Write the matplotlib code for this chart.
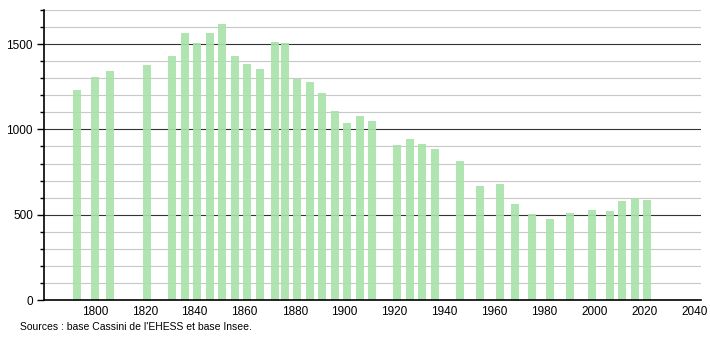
import numpy as np
import matplotlib
matplotlib.use('Agg')
import matplotlib.pyplot as plt
from matplotlib.ticker import MultipleLocator

# Années de recensement et population
annees = [1793, 1800, 1806, 1821, 1831, 1836, 1841, 1846, 1851, 1856,
          1861, 1866, 1872, 1876, 1881, 1886, 1891, 1896, 1901, 1906,
          1911, 1921, 1926, 1931, 1936, 1946, 1954, 1962, 1968, 1975,
          1982, 1990, 1999, 2006, 2011, 2016, 2021]
population = [1229, 1306, 1343, 1376, 1429, 1563, 1506, 1563, 1618, 1429,
              1386, 1353, 1510, 1505, 1298, 1276, 1212, 1108, 1039, 1076,
              1047, 906, 945, 912, 888, 812, 671, 678, 565, 506,
              475, 512, 529, 524, 578, 598, 588]
x_ticks = list(range(1800, 2041, 20))
y_ticks = [0, 500, 1000, 1500]
source = "Sources : base Cassini de l'EHESS et base Insee."

plt.rcParams['font.family'] = ['Liberation Sans', 'DejaVu Sans']

fig = plt.figure(figsize=(7.1, 3.4), dpi=100)
ax = fig.add_axes([0.062, 0.1176, 0.925, 0.853])

# grille : fine tous les 100, foncée tous les 500
for v in range(100, 1701, 100):
    if v % 500 == 0:
        ax.axhline(v, color='#333333', lw=0.8, zorder=1)
    else:
        ax.axhline(v, color='#c8c8c8', lw=0.8, zorder=1)

ax.bar(annees, population, width=3.2, color='#a8e2a8', alpha=0.9,
       linewidth=0, zorder=2)

ax.set_xlim(1779.7, 2042.5)
ax.set_ylim(0, 1700)
ax.set_xticks(x_ticks)
ax.set_yticks(y_ticks)
ax.yaxis.set_minor_locator(MultipleLocator(100))
ax.tick_params(axis='x', length=0, pad=4, labelsize=8.5)
ax.tick_params(axis='y', which='major', length=5, width=1, labelsize=8.5, pad=3)
ax.tick_params(axis='y', which='minor', length=3, width=1)

for s in ['top', 'right']:
    ax.spines[s].set_visible(False)
for s in ['left', 'bottom']:
    ax.spines[s].set_color('black')
    ax.spines[s].set_linewidth(1.2)

fig.text(20 / 710, 1 - 327 / 340, source, fontsize=7.5, va='center', ha='left')

fig.savefig('out.png', dpi=100)
